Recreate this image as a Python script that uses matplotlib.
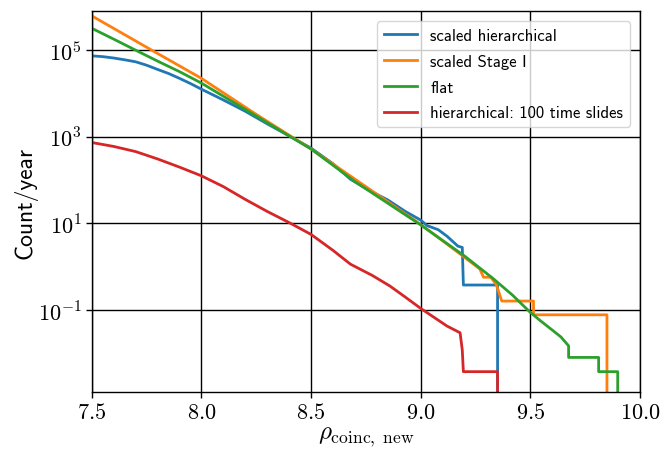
import numpy as np
import matplotlib
matplotlib.use("Agg")
import matplotlib.pyplot as plt

plt.rcParams['mathtext.fontset'] = 'cm'
plt.rcParams['axes.unicode_minus'] = False

# values (count/year vs rho)
x_hier = [7.5, 7.55, 7.6, 7.65, 7.7, 7.75, 7.8, 7.85, 7.9, 7.95, 8.0, 8.1, 8.2, 8.3, 8.4, 8.5, 8.6, 8.68,
          8.76, 8.85, 8.93, 9.0, 9.03, 9.08, 9.12, 9.17, 9.19, 9.195, 9.351, 9.351]
y_hier = [7.4e4, 7.1e4, 6.6e4, 6.0e4, 5.4e4, 4.5e4, 3.6e4, 2.9e4, 2.24e4, 1.7e4, 1.26e4, 7.1e3, 3.9e3, 2.0e3, 1.05e3,
          550, 240, 105, 60, 35, 19, 12, 8.9, 7.2, 5.1, 3.0, 2.8, 0.38, 0.38, 1e-4]

x_stage1 = [7.5, 7.75, 8.0, 8.25, 8.5, 8.75, 9.0, 9.1, 9.2, 9.27, 9.287, 9.32, 9.345, 9.37, 9.515, 9.515, 9.85, 9.85]
y_stage1 = [6.2e5, 1.17e5, 2.24e4, 3.3e3, 525, 71, 9.5, 4.0, 1.66, 0.89, 0.575, 0.575, 0.39, 0.162, 0.162, 0.078, 0.078, 1e-4]

x_flat = [7.5, 7.6, 7.7, 7.8, 7.9, 8.0, 8.2, 8.4, 8.5, 8.7, 9.0, 9.2, 9.33, 9.42, 9.5, 9.55, 9.606, 9.64, 9.675,
          9.675, 9.812, 9.812, 9.899, 9.899]
y_flat = [3.2e5, 1.8e5, 1.0e5, 5.6e4, 3.2e4, 1.74e4, 4.3e3, 1.05e3, 525, 93, 9.3, 1.78, 0.54, 0.22, 0.089, 0.055, 0.033, 0.024, 0.015,
          0.0081, 0.0081, 0.0038, 0.0038, 1e-4]

x_slides = [7.5, 7.6, 7.7, 7.8, 7.9, 8.0, 8.1, 8.2, 8.3, 8.4, 8.5, 8.6, 8.68, 8.78, 8.86, 8.93, 9.0, 9.12, 9.18,
            9.19, 9.195, 9.351, 9.351]
y_slides = [740, 600, 457, 309, 200, 126, 71, 36, 19, 10.5, 5.6, 2.4, 1.15, 0.63, 0.36, 0.2, 0.11, 0.043, 0.030,
            0.012, 0.0038, 0.0038, 1e-4]

labels = ['scaled hierarchical', 'scaled Stage I', 'flat', 'hierarchical: 100 time slides']
colors = ['#1f77b4', '#ff7f0e', '#2ca02c', '#d62728']

fig = plt.figure(figsize=(6.7, 4.52), dpi=100)
ax = fig.add_axes([0.137, 0.1305, 0.818, 0.8425])

series = [(x_hier, y_hier), (x_stage1, y_stage1), (x_flat, y_flat), (x_slides, y_slides)]
for (xs, ys), lab, c in zip(series, labels, colors):
    ax.plot(xs, ys, color=c, lw=2, label=lab)

ax.set_yscale('log')
ax.set_xlim(7.5, 10.0)
ax.set_ylim(10**-2.89, 10**5.9)

xt = [7.5, 8.0, 8.5, 9.0, 9.5, 10.0]
ax.set_xticks(xt)
ax.set_xticklabels(['$%.1f$' % v for v in xt], fontsize=16)
yt = [1e-1, 1e1, 1e3, 1e5]
ax.set_yticks(yt)
ax.set_yticklabels(['$10^{-1}$', '$10^{1}$', '$10^{3}$', '$10^{5}$'], fontsize=16)
ax.minorticks_off()
ax.tick_params(length=4, width=1)

ax.grid(True, color='black', lw=1)
for s in ax.spines.values():
    s.set_linewidth(1)

ax.set_xlabel(r'$\rho_{\mathrm{coinc,\ new}}$', fontsize=18, labelpad=1)
ax.set_ylabel('Count/year', family='cmss10', fontsize=17, labelpad=0)

ax.legend(loc='upper right', prop={'family': 'cmss10', 'size': 12}, labelspacing=0.65,
          borderaxespad=0.6)

fig.savefig('out.png', dpi=100)
